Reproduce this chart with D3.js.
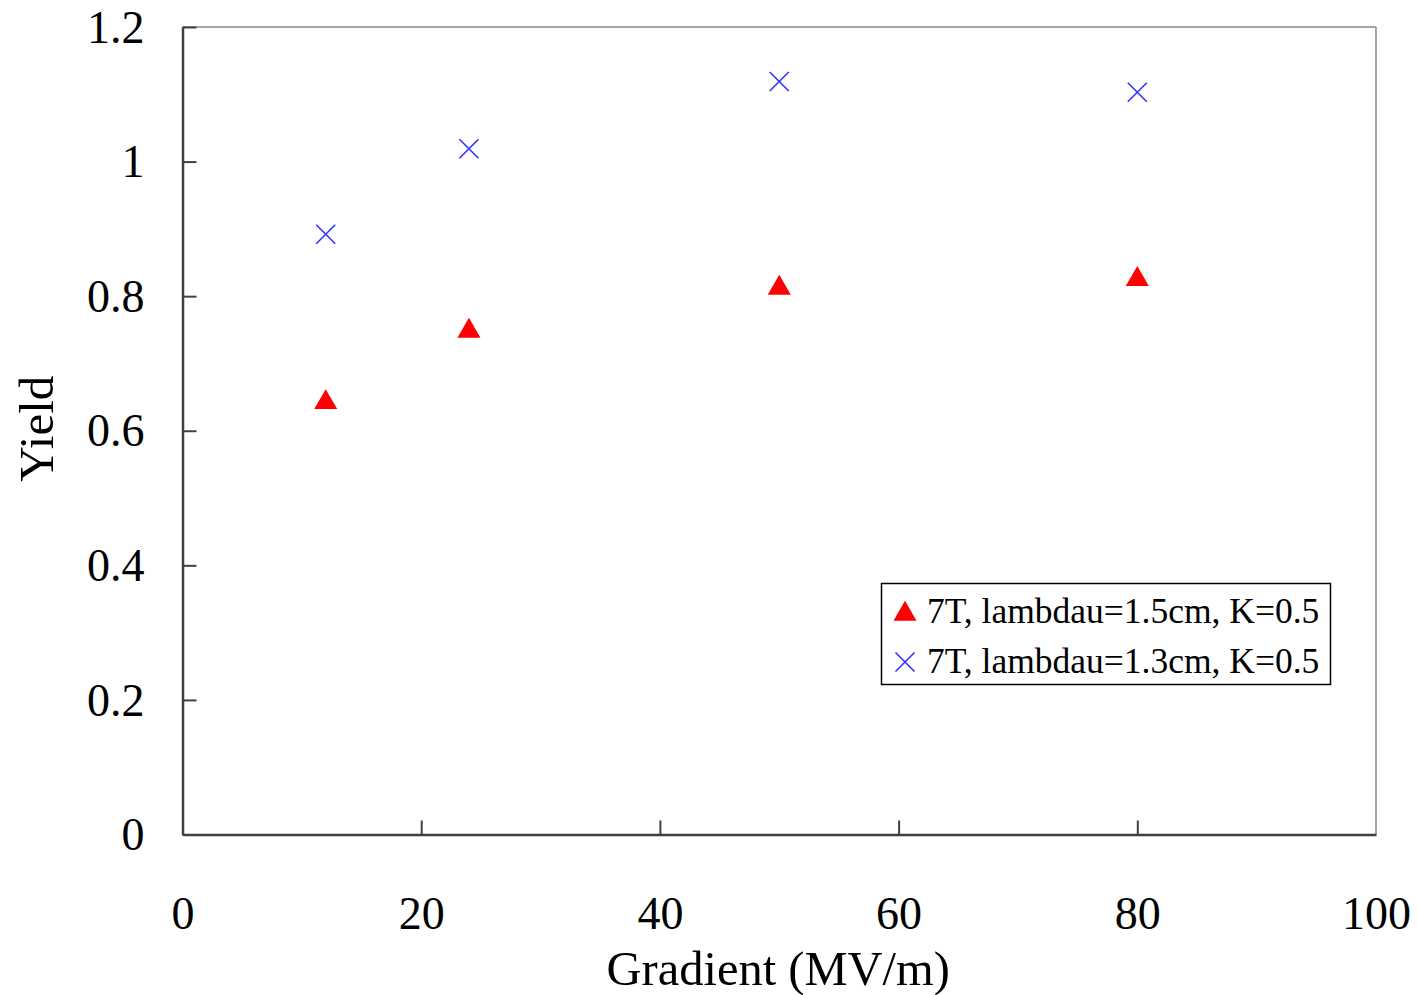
<!DOCTYPE html>
<html><head><meta charset="utf-8">
<script src="https://cdn.jsdelivr.net/npm/d3@7"></script>
<style>body{margin:0;background:#fff}svg{display:block}text{font-family:"Liberation Serif","Times New Roman",serif}</style>
</head><body><svg id="c" width="1418" height="995"></svg>
<script>
const gradient = [12, 24, 50, 80];
const yield15 = [0.645, 0.751, 0.815, 0.828];
const yield13 = [0.892, 1.019, 1.119, 1.103];
const seriesNames = ["7T, lambdau=1.5cm, K=0.5", "7T, lambdau=1.3cm, K=0.5"];
const xTicks = [0, 20, 40, 60, 80, 100];
const yTicks = [0, 0.2, 0.4, 0.6, 0.8, 1, 1.2];
const xTitle = "Gradient (MV/m)";
const yTitle = "Yield";

const svg = d3.select("#c");
const L = 182.5, R = 1376, T = 27, B = 834.5;
const x = d3.scaleLinear().domain([0, 100]).range([L, R]);
const y = d3.scaleLinear().domain([0, 1.2]).range([B, T]);

svg.append("line").attr("x1", L).attr("x2", R).attr("y1", T).attr("y2", T).attr("stroke", "#888").attr("stroke-width", 1.5);
svg.append("line").attr("x1", R).attr("x2", R).attr("y1", T).attr("y2", B).attr("stroke", "#888").attr("stroke-width", 1.5);

const fmt = d => String(d);
const xAxis = svg.append("g").attr("transform", `translate(0,${B})`)
  .call(d3.axisBottom(x).tickValues(xTicks).tickSizeInner(-14).tickSizeOuter(0).tickPadding(62).tickFormat(fmt));
const yAxis = svg.append("g").attr("transform", `translate(${L},0)`)
  .call(d3.axisLeft(y).tickValues(yTicks).tickSizeInner(-14).tickSizeOuter(0).tickPadding(38).tickFormat(fmt));
[xAxis, yAxis].forEach(a => {
  a.select(".domain").attr("stroke", "#404040").attr("stroke-width", 2.5);
  a.selectAll(".tick line").attr("stroke", "#404040").attr("stroke-width", 2);
  a.selectAll("text").attr("font-family", "Liberation Serif").attr("font-size", 46).attr("fill", "#000");
});
xAxis.selectAll(".tick").filter(d => d === 0 || d === 100).select("line").remove();
yAxis.selectAll(".tick").filter(d => d === 0 || d === 1.2).select("line").attr("x2", 14);
yAxis.selectAll("text").attr("dy", "0.33em");

svg.append("text").attr("x", (L + R) / 2 - 1).attr("y", 985).attr("text-anchor", "middle")
  .attr("font-size", 48.5).text(xTitle);
svg.append("text").attr("transform", `translate(53,${(T + B) / 2 - 2}) rotate(-90)`).attr("text-anchor", "middle")
  .attr("font-size", 49).text(yTitle);

const tri = d3.symbol().type(d3.symbolTriangle).size(230);
const pts = gradient.map((g, i) => ({g, a: yield15[i], b: yield13[i]}));
svg.append("g").selectAll("path").data(pts).join("path")
  .attr("d", tri).attr("transform", d => `translate(${x(d.g)},${y(d.a) + 2})`).attr("fill", "#ff0000");

function cross(sel, s) {
  sel.append("path").attr("d", `M${-s},${-s}L${s},${s}M${-s},${s}L${s},${-s}`)
    .attr("stroke", "#3333ff").attr("stroke-width", 1.6).attr("fill", "none");
}
svg.append("g").selectAll("g").data(pts).join("g")
  .attr("transform", d => `translate(${x(d.g)},${y(d.b)})`).each(function() { cross(d3.select(this), 9.5); });

const lg = svg.append("g");
lg.append("rect").attr("x", 881.5).attr("y", 583.5).attr("width", 449).attr("height", 101)
  .attr("fill", "#fff").attr("stroke", "#000").attr("stroke-width", 1.5);
lg.append("path").attr("d", tri).attr("transform", "translate(905,614)").attr("fill", "#ff0000");
lg.append("g").attr("transform", "translate(905,662)").call(g => cross(g, 9.5));
seriesNames.forEach((n, i) => {
  lg.append("text").attr("x", 927).attr("y", 623 + i * 50).attr("font-size", 35.5).text(n);
});
</script></body></html>
